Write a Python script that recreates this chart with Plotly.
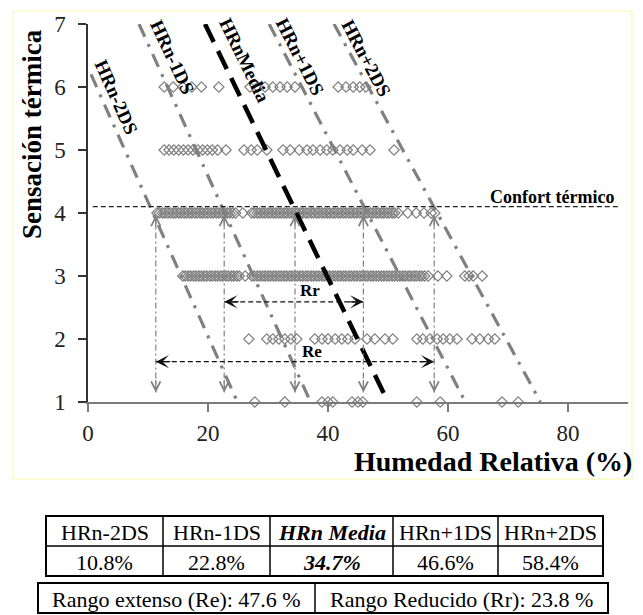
import plotly.graph_objects as go

# ---------------- data ----------------
sensation_levels = [1, 2, 3, 4, 5, 6]
hr_s1 = [27.8, 32.8, 39.0, 40.0, 40.8, 44.0, 45.0, 45.8, 54.8, 58.7, 69.0, 71.7]
hr_s2 = [26.8, 29.8, 30.8, 31.8, 32.8, 33.8, 34.8, 37.8, 39.0, 40.0, 41.2, 42.3,
         43.3, 44.5, 46.5, 47.8, 49.5, 50.8, 54.8, 55.8, 57.0, 58.2, 59.2, 60.3,
         61.5, 64.0, 65.3, 66.7, 67.8]
hr_s3 = [15.8, 16.2, 16.7, 17.1, 17.6, 18.0, 18.5, 18.9, 19.4, 19.8, 20.3, 20.7,
         21.2, 21.6, 22.1, 22.5, 23.0, 23.4, 23.9, 24.3, 24.8, 25.2, 26.2, 27.3,
         27.7, 28.2, 28.6, 29.1, 29.5, 30.0, 30.4, 30.9, 31.3, 31.8, 32.2, 32.7,
         33.1, 33.6, 34.0, 34.5, 34.9, 35.4, 35.8, 36.3, 36.7, 37.2, 37.6, 38.1,
         38.5, 39.0, 39.4, 39.9, 40.3, 40.8, 41.2, 41.7, 42.1, 42.6, 43.0, 43.5,
         43.9, 44.4, 44.8, 45.3, 45.7, 46.2, 46.6, 47.1, 47.5, 48.0, 48.4, 48.9,
         49.3, 49.8, 50.2, 50.7, 51.1, 51.6, 52.0, 52.5, 52.9, 53.4, 53.8, 54.3,
         54.7, 55.2, 55.6, 56.1, 56.7, 58.3, 59.8, 62.8, 63.5, 64.2, 65.7]
hr_s4 = [11.5, 11.9, 12.4, 12.8, 13.3, 13.7, 14.2, 14.6, 15.1, 15.5, 16.0, 16.4,
         16.9, 17.3, 17.8, 18.2, 18.7, 19.1, 19.6, 20.0, 20.5, 20.9, 21.4, 21.8,
         22.3, 22.7, 23.2, 23.6, 24.1, 24.6, 25.8, 27.3, 27.7, 28.2, 28.6, 29.1,
         29.5, 30.0, 30.4, 30.9, 31.3, 31.8, 32.2, 32.7, 33.1, 33.6, 34.0, 34.5,
         34.9, 35.4, 35.8, 36.3, 36.7, 37.2, 37.6, 38.1, 38.5, 39.0, 39.4, 39.9,
         40.3, 40.8, 41.2, 41.7, 42.1, 42.6, 43.0, 43.5, 43.9, 44.4, 44.8, 45.3,
         45.7, 46.2, 46.6, 47.1, 47.5, 48.0, 48.4, 48.9, 49.3, 49.8, 50.2, 50.7,
         51.1, 51.7, 53.3, 54.7, 56.0, 57.2, 57.8]
hr_s5 = [12.7, 13.5, 14.3, 15.1, 15.9, 16.7, 17.5, 18.3, 19.1, 19.9, 20.7, 21.6,
         23.0, 26.0, 27.2, 28.2, 29.8, 32.5, 33.7, 35.2, 36.5, 37.5, 38.7, 39.8,
         40.8, 42.0, 43.2, 44.2, 45.7, 47.0, 51.0]
hr_s6 = [12.7, 14.2, 15.8, 17.3, 18.9, 21.8, 27.0, 28.3, 29.5, 30.8, 32.0, 33.2,
         34.5, 41.7, 43.0, 44.2, 45.3, 46.3]
hr_rows = [hr_s1, hr_s2, hr_s3, hr_s4, hr_s5, hr_s6]

# guide lines
line_names = ["HRn-2DS", "HRn-1DS", "HRnMedia", "HRn+1DS", "HRn+2DS"]
line_x_top = [0.5, 8.5, 19.5, 30.2, 41.0]
line_y_top = [6.2, 7.0, 7.0, 7.0, 7.0]
line_x_bottom = [24.9, 37.1, 50.0, 62.9, 75.4]
line_y_bottom = [1.0, 1.0, 1.0, 1.0, 1.0]

# vertical markers at comfort level
hr_marks = [11.3, 22.7, 34.5, 45.9, 57.7]
mark_y_top = 3.97
mark_y_bottom = 1.15

# comfort line
comfort_x = [0.8, 88.3]
comfort_y = [4.1, 4.1]
comfort_label = "Confort térmico"

# ranges
range_names = ["Rr", "Re"]
range_x0 = [22.7, 11.3]
range_x1 = [45.9, 57.7]
range_y = [2.59, 1.64]

# tables
table_headers = ["HRn-2DS", "HRn-1DS", "HRn Media", "HRn+1DS", "HRn+2DS"]
table_values = ["10.8%", "22.8%", "34.7%", "46.6%", "58.4%"]
range_texts = ["Rango extenso (Re): 47.6 %", "Rango Reducido (Rr): 23.8 %"]

x_tick_vals = [0, 20, 40, 60, 80]
y_tick_vals = [1, 2, 3, 4, 5, 6, 7]
x_title = "Humedad Relativa (%)"
y_title = "Sensación térmica"

# ---------------- layout constants ----------------
FONT = "Liberation Serif"
OFF = 8                      # default page body margin
W, H = 643 - OFF, 615 - OFF
ML, MT = 88 - OFF, 24 - OFF
PW, PH = 540, 378
MR, MB = W - ML - PW, H - MT - PH
GRAY = "#808080"


def px2x(px):
    # px given in reference-picture pixels
    return (px - OFF - ML) / PW


def px2y(py):
    return (MT + PH - (py - OFF)) / PH


fig = go.Figure()

# data points
xs, ys = [], []
for lvl, row in zip(sensation_levels, hr_rows):
    xs += row
    ys += [lvl] * len(row)
fig.add_trace(go.Scatter(
    x=xs, y=ys, mode="markers", cliponaxis=False, hoverinfo="skip",
    marker=dict(symbol="diamond-open", size=8, color=GRAY, line=dict(width=1.2, color=GRAY))))

# guide lines
for i, name in enumerate(line_names):
    is_mean = "Media" in name
    fig.add_trace(go.Scatter(
        x=[line_x_top[i], line_x_bottom[i]], y=[line_y_top[i], line_y_bottom[i]],
        mode="lines", cliponaxis=False, hoverinfo="skip",
        line=dict(color="black" if is_mean else GRAY, width=4.5 if is_mean else 3.2,
                  dash="20px,10px" if is_mean else "14px,8px,3px,8px")))

# comfort line
fig.add_trace(go.Scatter(x=comfort_x, y=comfort_y, mode="lines", hoverinfo="skip",
                         cliponaxis=False,
                         line=dict(color="#222", width=1.3, dash="5px,3px")))

# vertical markers
for hx in hr_marks:
    fig.add_trace(go.Scatter(x=[hx, hx], y=[mark_y_bottom, mark_y_top], mode="lines",
                             hoverinfo="skip",
                             line=dict(color=GRAY, width=1.2, dash="6px,3px,2px,3px")))

# range arrow lines
for i in range(len(range_names)):
    fig.add_trace(go.Scatter(x=[range_x0[i], range_x1[i]], y=[range_y[i], range_y[i]],
                             mode="lines", hoverinfo="skip",
                             line=dict(color="#111", width=1.3, dash="5px,3px")))

annotations = []
for hx in hr_marks:
    annotations.append(dict(x=hx, y=mark_y_top, ax=0, ay=14, text="", showarrow=True,
                            arrowhead=5, arrowsize=1.4, arrowwidth=1.3, arrowcolor=GRAY))
    annotations.append(dict(x=hx, y=mark_y_bottom, ax=0, ay=-14, text="", showarrow=True,
                            arrowhead=5, arrowsize=1.4, arrowwidth=1.3, arrowcolor=GRAY))
for i in range(len(range_names)):
    annotations.append(dict(x=range_x0[i], y=range_y[i], ax=16, ay=0, text="", showarrow=True,
                            arrowhead=3, arrowsize=1.7, arrowwidth=1.3, arrowcolor="#111"))
    annotations.append(dict(x=range_x1[i], y=range_y[i], ax=-16, ay=0, text="", showarrow=True,
                            arrowhead=3, arrowsize=1.7, arrowwidth=1.3, arrowcolor="#111"))

range_label_pos = [(37.0, 2.77), (37.3, 1.80)]
for name, (lx, ly) in zip(range_names, range_label_pos):
    annotations.append(dict(x=lx, y=ly, text=f"<b>{name}</b>", showarrow=False,
                            font=dict(family=FONT, size=17, color="black")))

label_pos = [(4.8, 5.84), (14.0, 6.48), (26.0, 6.43), (35.3, 6.48), (46.4, 6.45)]
label_angle = [66, 65, 64, 63, 62]
for name, (lx, ly), ang in zip(line_names, label_pos, label_angle):
    annotations.append(dict(x=lx, y=ly, text=f"<b>{name}</b>", showarrow=False,
                            textangle=ang, xanchor="center", yanchor="middle",
                            font=dict(family=FONT, size=19, color="black")))

annotations.append(dict(x=88.0, y=4.26, text=f"<b>{comfort_label}</b>", showarrow=False,
                        xanchor="right", yanchor="middle",
                        font=dict(family=FONT, size=18, color="black")))

annotations.append(dict(xref="paper", yref="paper", x=px2x(634), y=px2y(461),
                        text=f"<b>{x_title}</b>", showarrow=False, xanchor="right",
                        yanchor="middle", font=dict(family=FONT, size=28, color="black")))
annotations.append(dict(xref="paper", yref="paper", x=px2x(32), y=px2y(134),
                        text=f"<b>{y_title}</b>", showarrow=False, textangle=-90,
                        xanchor="center", yanchor="middle",
                        font=dict(family=FONT, size=27, color="black")))

shapes = []
shapes.append(dict(type="rect", xref="paper", yref="paper", x0=px2x(13), x1=px2x(632),
                   y0=px2y(479), y1=px2y(11), line=dict(color="#F6F6A8", width=1)))

# table 1
t1_cols = [46, 163, 270, 393, 498, 603]
t1_rows = [516, 546, 576]
shapes.append(dict(type="rect", xref="paper", yref="paper", x0=px2x(t1_cols[0]),
                   x1=px2x(t1_cols[-1]), y0=px2y(t1_rows[-1]), y1=px2y(t1_rows[0]),
                   line=dict(color="black", width=2)))
for cx in t1_cols[1:-1]:
    shapes.append(dict(type="line", xref="paper", yref="paper", x0=px2x(cx), x1=px2x(cx),
                       y0=px2y(t1_rows[-1]), y1=px2y(t1_rows[0]),
                       line=dict(color="black", width=1.5)))
shapes.append(dict(type="line", xref="paper", yref="paper", x0=px2x(t1_cols[0]),
                   x1=px2x(t1_cols[-1]), y0=px2y(t1_rows[1]), y1=px2y(t1_rows[1]),
                   line=dict(color="black", width=1.5)))
for j, (hd, val) in enumerate(zip(table_headers, table_values)):
    cx = (t1_cols[j] + t1_cols[j + 1]) / 2
    emph = "Media" in hd
    for txt, r in ((hd, 0), (val, 1)):
        t = f"<b><i>{txt}</i></b>" if emph else txt
        annotations.append(dict(xref="paper", yref="paper", x=px2x(cx),
                                y=px2y((t1_rows[r] + t1_rows[r + 1]) / 2 + 1),
                                text=t, showarrow=False, xanchor="center", yanchor="middle",
                                font=dict(family=FONT, size=22, color="black")))

# table 2
t2_cols = [38, 315, 608]
t2_rows = [583, 613]
shapes.append(dict(type="rect", xref="paper", yref="paper", x0=px2x(t2_cols[0]),
                   x1=px2x(t2_cols[-1]), y0=px2y(t2_rows[1]), y1=px2y(t2_rows[0]),
                   line=dict(color="black", width=2)))
shapes.append(dict(type="line", xref="paper", yref="paper", x0=px2x(t2_cols[1]),
                   x1=px2x(t2_cols[1]), y0=px2y(t2_rows[1]), y1=px2y(t2_rows[0]),
                   line=dict(color="black", width=1.5)))
for j, txt in enumerate(range_texts):
    cx = (t2_cols[j] + t2_cols[j + 1]) / 2
    annotations.append(dict(xref="paper", yref="paper", x=px2x(cx),
                            y=px2y((t2_rows[0] + t2_rows[1]) / 2 + 1),
                            text=txt, showarrow=False, xanchor="center", yanchor="middle",
                            font=dict(family=FONT, size=22, color="black")))

fig.update_layout(
    width=W, height=H, margin=dict(l=ML, r=MR, t=MT, b=MB, autoexpand=False),
    paper_bgcolor="white", plot_bgcolor="white", showlegend=False,
    font=dict(family=FONT, color="black"),
    annotations=annotations, shapes=shapes,
)
fig.update_xaxes(range=[0, 90], tickvals=x_tick_vals, showline=True, linecolor="#7a7a7a",
                 linewidth=1.5, ticks="outside", ticklen=8, tickwidth=1.5, tickcolor="#7a7a7a",
                 showgrid=False, zeroline=False, ticklabelstandoff=2,
                 tickfont=dict(family=FONT, size=23, color="#222"))
fig.update_yaxes(range=[1, 7], tickvals=y_tick_vals, showline=True, linecolor="#333",
                 linewidth=1.5, ticks="outside", ticklen=8, tickwidth=1.5, tickcolor="#333",
                 showgrid=False, zeroline=False, ticklabelstandoff=8,
                 tickfont=dict(family=FONT, size=23, color="#222"))

fig.write_html("out.html")
